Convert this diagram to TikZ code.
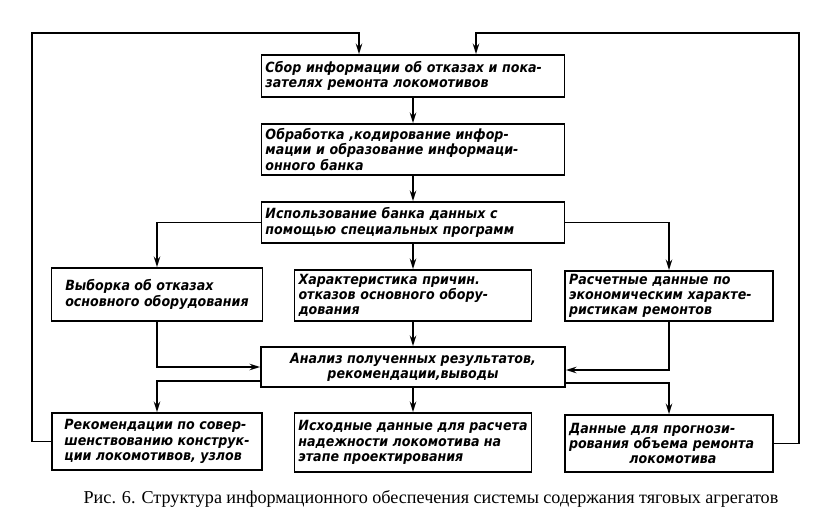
\documentclass[tikz,border=0pt]{standalone}
\usepackage{fontspec}
\setmainfont{Liberation Serif}
\newfontfamily\drawfont{DejaVu Sans Condensed}
\usetikzlibrary{arrows.meta,calc}
\tikzstyle{box} = [rectangle, draw=black, line width=1.5pt, align=left,
inner xsep=3pt, inner ysep=1pt, font={\drawfont\bfseries\itshape\fontsize{12}{13}\selectfont}]
\tikzstyle{arrow} = [line width=1.5pt,-{Stealth[length=9pt,width=5.5pt]}]

\begin{document}
\begin{tikzpicture}[x=0.03cm,y=-0.03cm]
\useasboundingbox (0,0) rectangle (824,513);
\node (1)[box, minimum width=9.09cm, text width=8.85cm, minimum height=1.26cm] at (413,76)
  {Сбор информации об отказах и пока-\\зателях ремонта локомотивов};
\node (2)[box, minimum width=9.09cm, text width=8.85cm, minimum height=1.53cm] at (413,149.5)
  {Обработка ,кодирование инфор-\\мации и образование информаци-\\онного банка};
\node (3)[box, minimum width=9.09cm, text width=8.85cm, minimum height=1.23cm] at (413,222.5)
  {Использование банка данных с\\помощью специальных программ};
\node (4)[box, minimum width=6.33cm, minimum height=1.59cm] at (157,294.5)
  {Выборка об отказах\\основного оборудования};
\node (5)[box, minimum width=7.11cm, text width=6.87cm, minimum height=1.53cm] at (413,295.5)
  {Характеристика причин.\\отказов основного обору-\\дования};
\node (6)[box, minimum width=6.24cm, text width=6cm, minimum height=1.5cm] at (669,296)
  {Расчетные данные по\\экономическим характе-\\ристикам ремонтов};
\node (7)[box, align=center, minimum width=9.12cm, minimum height=1.2cm] at (413,367)
  {Анализ полученных результатов,\\рекомендации,выводы};
\node (8)[box, minimum width=6.3cm, minimum height=1.71cm] at (157,441.5)
  {Рекомендации по совер-\\шенствованию конструк-\\ции локомотивов, узлов};
\node (9)[box, minimum width=7.11cm, minimum height=1.77cm] at (413,442.5)
  {Исходные данные для расчета\\надежности локомотива на\\этапе проектирования};
\node (10)[box, minimum width=6.24cm, text width=6cm, minimum height=1.71cm] at (669,443.5)
  {Данные для прогнози-\\рования объема ремонта\\\hspace*{4.3em}локомотива};
\node (cap) at (431,499) {\fontsize{15.5}{17}\selectfont\makebox[593pt][s]{Рис. 6. Структура информационного обеспечения системы содержания тяговых агрегатов}};

% return loops
\coordinate (l1) at (32,33);
\coordinate (r1) at (799,33);
\coordinate (in1) at (359,0);
\coordinate (in2) at (476,0);

\draw [arrow](1) -- (2);
\draw [arrow](2) -- (3);
\draw [arrow](3) -- (5);
\draw [arrow](3.west) -| (4.north);
\draw [arrow](3.east) -| (6.north);
\draw [arrow](5) -- (7);
\draw [arrow](4.south) |- (7.west);
\draw [arrow](6.south) |- ($(7.east)+(0,3)$);
\draw [arrow](7) -- (9);
\draw [arrow]($(7.west)+(0,14)$) -| (8.north);
\draw [arrow]($(7.east)+(0,16)$) -| (10.north);
\draw [arrow](8.west) -| (l1) -| (1.north -| in1);
\draw [arrow](10.east) -| (r1) -| (1.north -| in2);
\end{tikzpicture}
\end{document}
